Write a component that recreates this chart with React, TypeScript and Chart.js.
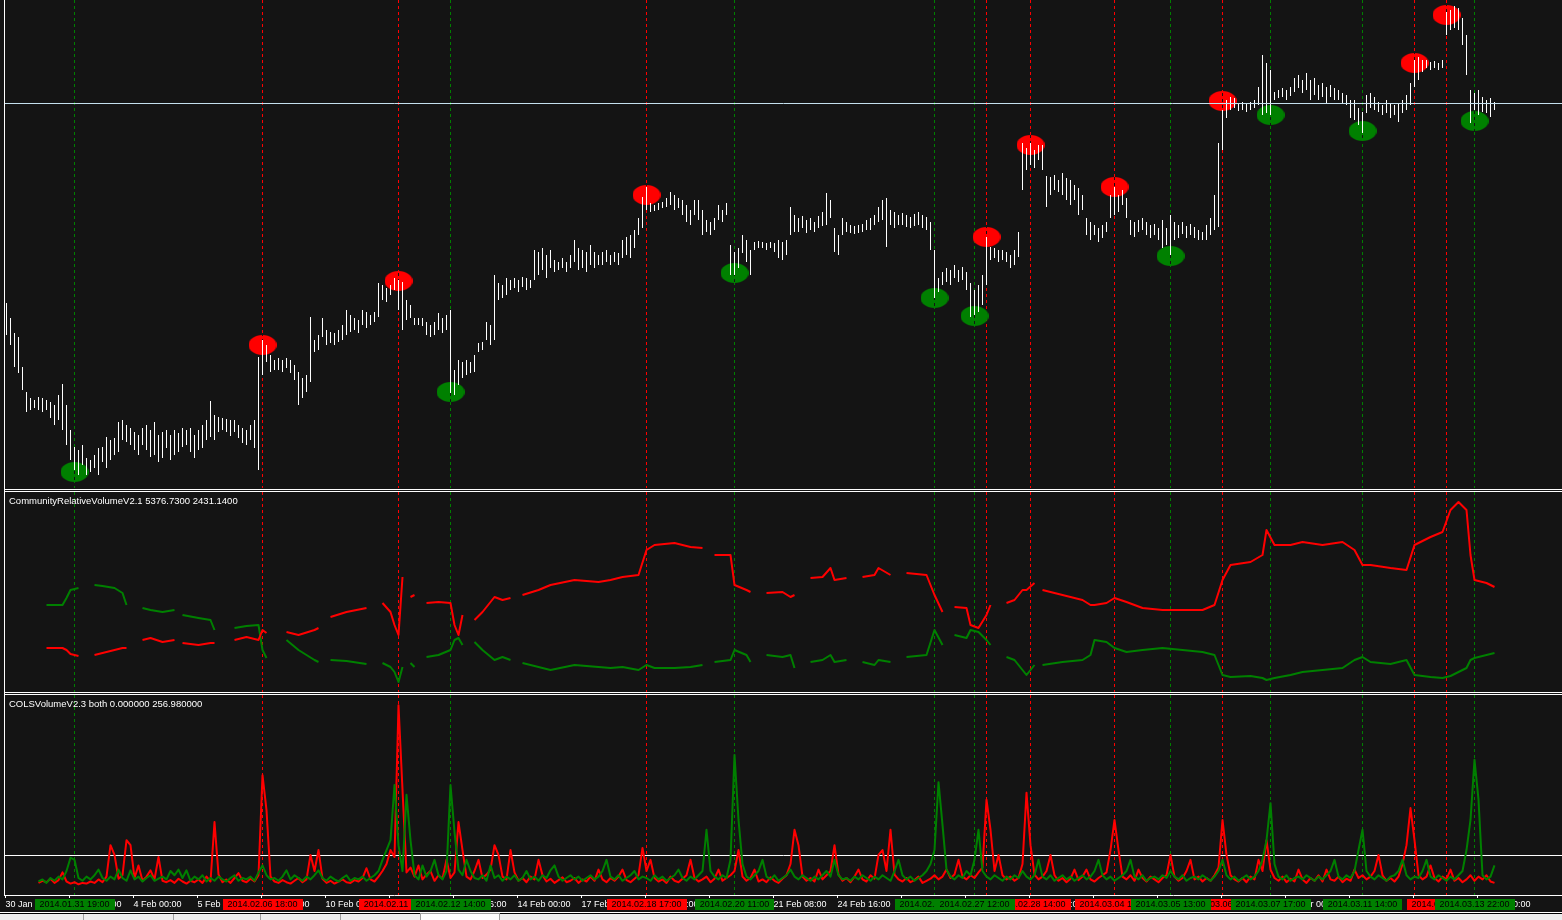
import React, { useEffect, useRef } from 'react';
import { Chart, registerables } from 'chart.js';

Chart.register(...registerables);
Chart.defaults.font.family = '"Liberation Sans", Arial, sans-serif';

// ---------------- data ----------------
// EURUSD H2 bars, prices in pips (x10000)
const BAR_HIGH = [
  13647,13632,13617,13613,13583,13558,13552,13550,13553,13552,
  13550,13548,13545,13555,13566,13545,13520,13503,13500,13505,
  13492,13490,13495,13502,13503,13513,13510,13512,13528,13530,
  13525,13522,13518,13515,13522,13525,13520,13528,13515,13518,
  13520,13515,13520,13517,13522,13520,13522,13515,13520,13525,
  13530,13549,13535,13533,13532,13531,13530,13530,13525,13522,
  13520,13525,13530,13593,13610,13605,13595,13590,13592,13590,
  13592,13590,13585,13578,13572,13575,13633,13610,13615,13632,
  13620,13618,13617,13620,13625,13640,13635,13632,13630,13640,
  13638,13635,13638,13667,13665,13662,13665,13672,13670,13668,
  13650,13645,13632,13632,13632,13628,13625,13628,13637,13632,
  13635,13640,13580,13590,13588,13590,13588,13595,13607,13608,
  13628,13625,13675,13667,13665,13672,13670,13672,13670,13673,
  13672,13670,13700,13698,13702,13695,13700,13690,13688,13692,
  13688,13695,13710,13702,13700,13698,13705,13698,13695,13698,
  13700,13695,13698,13697,13710,13713,13715,13720,13732,13753,
  13763,13747,13745,13747,13748,13752,13758,13755,13752,13750,
  13745,13740,13750,13750,13740,13730,13728,13732,13745,13740,
  13747,13705,13698,13702,13715,13710,13700,13708,13709,13708,
  13707,13708,13707,13710,13708,13710,13743,13735,13732,13734,
  13730,13732,13728,13734,13738,13757,13750,13722,13715,13732,
  13728,13725,13724,13725,13726,13730,13732,13735,13743,13750,
  13752,13740,13738,13735,13737,13735,13733,13736,13738,13735,
  13733,13728,13700,13672,13678,13682,13680,13685,13680,13683,
  13678,13667,13660,13665,13675,13713,13703,13702,13700,13700,
  13698,13695,13700,13718,13807,13802,13807,13800,13805,13805,
  13774,13773,13775,13770,13777,13772,13770,13765,13762,13755,
  13732,13728,13725,13722,13725,13728,13755,13763,13755,13760,
  13752,13730,13728,13730,13732,13728,13725,13726,13722,13730,
  13722,13735,13728,13725,13728,13724,13726,13723,13720,13718,
  13725,13732,13755,13807,13840,13850,13853,13852,13847,13848,
  13847,13848,13850,13863,13895,13887,13880,13858,13860,13862,
  13860,13863,13872,13875,13870,13877,13870,13872,13865,13867,
  13863,13865,13862,13860,13857,13855,13850,13850,13842,13838,
  13855,13857,13853,13848,13845,13850,13847,13845,13847,13850,
  13855,13867,13890,13893,13890,13890,13888,13889,13887,13890,
  13938,13940,13944,13942,13932,13915,13860,13857,13860,13853,
  13850,13852,13848,
];
const BAR_LOW = [
  13615,13605,13583,13577,13560,13538,13540,13542,13540,13538,
  13540,13532,13525,13530,13520,13505,13490,13480,13475,13485,
  13475,13478,13482,13475,13488,13482,13490,13495,13498,13510,
  13508,13505,13500,13495,13505,13500,13493,13495,13488,13492,
  13502,13490,13495,13498,13503,13505,13498,13492,13500,13502,
  13510,13513,13510,13518,13520,13518,13514,13518,13512,13507,
  13505,13510,13502,13480,13575,13588,13578,13580,13580,13578,
  13582,13577,13570,13545,13552,13558,13568,13598,13600,13613,
  13605,13607,13605,13608,13610,13615,13618,13620,13617,13625,
  13622,13625,13628,13633,13650,13648,13655,13660,13640,13620,
  13630,13632,13625,13625,13624,13615,13613,13615,13620,13617,
  13620,13557,13555,13565,13572,13575,13577,13578,13598,13600,
  13610,13605,13610,13650,13652,13655,13660,13662,13658,13663,
  13660,13662,13670,13675,13680,13672,13682,13678,13680,13682,
  13678,13682,13688,13680,13682,13678,13685,13682,13685,13685,
  13688,13685,13688,13685,13692,13695,13692,13702,13715,13722,
  13740,13738,13739,13740,13742,13743,13745,13740,13742,13735,
  13728,13725,13735,13730,13715,13718,13715,13720,13730,13728,
  13735,13675,13675,13682,13697,13688,13675,13700,13702,13702,
  13700,13702,13698,13692,13690,13695,13715,13718,13718,13722,
  13717,13720,13718,13722,13724,13725,13732,13698,13695,13715,
  13718,13717,13716,13717,13718,13720,13720,13725,13728,13730,
  13703,13725,13722,13725,13725,13723,13722,13724,13725,13722,
  13720,13700,13652,13658,13665,13668,13665,13672,13668,13670,
  13660,13633,13635,13638,13645,13665,13690,13692,13688,13690,
  13688,13682,13685,13693,13760,13780,13785,13782,13790,13780,
  13743,13755,13760,13758,13755,13750,13745,13750,13735,13740,
  13715,13710,13715,13708,13712,13718,13732,13735,13738,13745,
  13732,13715,13713,13718,13720,13715,13712,13715,13710,13702,
  13705,13695,13710,13712,13716,13712,13715,13712,13710,13710,
  13710,13715,13720,13723,13800,13832,13840,13842,13839,13840,
  13838,13840,13842,13845,13835,13837,13835,13850,13852,13853,
  13850,13854,13858,13862,13857,13860,13850,13855,13850,13853,
  13847,13853,13850,13850,13847,13845,13832,13830,13825,13817,
  13837,13842,13840,13838,13835,13837,13832,13835,13828,13837,
  13840,13845,13863,13870,13878,13882,13880,13882,13880,13882,
  13915,13920,13922,13920,13905,13875,13827,13840,13835,13838,
  13837,13833,13840,
];
const BID_LEVEL = 13847;

const SELL_IDX = [64, 98, 160, 245, 256, 277, 304, 352, 360];
const SELL_PRICE = [13605, 13669, 13755, 13713, 13805, 13763, 13849, 13887, 13935];
const SELL_TIMES = ['2014.02.06 18:00', '2014.02.11 13:00', '2014.02.18 17:00', '2014.02.27 18:00', '2014.02.28 14:00', '2014.03.04 10:00', '2014.03.06 16:00', '', '2014.03.13 08:00'];
const BUY_IDX = [17, 111, 182, 232, 242, 291, 316, 339, 367];
const BUY_PRICE = [13478, 13558, 13677, 13652, 13634, 13694, 13835, 13819, 13829];
const BUY_TIMES = ['2014.01.31 19:00', '2014.02.12 14:00', '2014.02.20 11:00', '2014.02.26 16:00', '2014.02.27 12:00', '2014.03.05 13:00', '2014.03.07 17:00', '2014.03.11 14:00', '2014.03.13 22:00'];

// CommunityRelativeVolume (bar index, red buffer, green buffer; null = gap)
const RV_X = [
  10,14,15,16,18,19, 22,24,27,29,30,32, 34,36,39,42,43, 44,48,51,52,54,
  57,60,63,64,65,67, 70,73,77,78,80, 81,85,90,92, 94,96,97,98,99,100,
  101,102,104, 105,108,111,112,113,114,116, 117,119,122,124,126,128,
  129,133,136,142,148,151,154,158,160,162,167,171,174,175,
  177,181,182,185,186,188, 190,194,196,197,199, 201,204,206,207,210,212,
  214,217,218,221,223, 225,230,232,234,236, 237,240,241,243,245,246,248,
  250,252,254,255,257,258,
  259,264,269,271,272,275,277,280,284,289,294,299,302,304,306,311,314,315,317,
  321,324,329,334,337,339,341,346,350,352,356,359,361,363,365,366,367,370,372,
];
const RV_RED = [
  2350,2350,2250,2050,1950,null, 2000,2100,2250,2350,2350,null, 2750,2850,2650,2750,null,
  2600,2500,2600,2600,null, 2750,2900,2750,3250,3100,null, 3150,3000,3250,3350,null,
  3900,4150,4350,null, 4600,4150,3500,3000,5900,null, 4900,5000,null,
  4600,4650,4600,3500,3000,4000,null, 3750,4150,4900,4750,4850,null,
  5000,5250,5500,5750,5650,5750,5900,6000,7250,7500,7600,7400,7350,null,
  7000,7000,5500,5250,5150,null, 5100,5150,4900,5000,null, 5850,5900,6350,5750,5850,null,
  5900,6000,6350,6000,null, 6100,6000,5000,4150,null, 4400,4350,3500,3350,4000,4500,null,
  4600,4750,5250,5250,5600,null,
  5250,5000,4750,4500,4500,4600,4850,4650,4350,4250,4250,4250,4500,5750,6500,6650,7000,8250,7500,
  7500,7650,7500,7650,7250,6500,6500,6350,6250,7500,7900,8150,9250,9650,9250,7000,5750,5600,5400,
];
const RV_GREEN = [
  4500,4500,4850,5250,5350,null, 5500,5450,5350,5100,4500,null, 4350,4250,4150,4250,null,
  4000,3850,3750,3250,null, 3350,3450,3500,2250,1850,null, 2750,2250,1750,1650,null,
  1750,1700,1550,null, 1600,1400,1150,650,1400,null, 1600,1400,null,
  1900,2000,2250,2750,2850,2500,null, 2650,2250,1750,1900,1750,null,
  1600,1400,1250,1500,1400,1350,1400,1250,1500,1350,1350,1400,1500,null,
  1650,1750,2250,2000,1650,null, 2000,1900,2000,1350,null, 1650,1750,2000,1650,1750,null,
  1650,1500,1750,1650,null, 1900,2000,3250,2500,null, 3000,2850,3250,3150,2750,2500,null,
  1900,1750,1250,1000,1500,null,
  1500,1650,1750,2000,2750,2650,2350,2150,2250,2350,2250,2150,2000,1000,900,950,850,750,850,
  1000,1150,1250,1350,1750,1900,1650,1550,1750,1000,900,850,950,1150,1350,1750,1850,2000,2100,
];

// COLSVolume per bar
const COLS_RED = [
  null,null,null,null,null,null,null,null,3,6,
  4,9,3,7,18,5,2,4,1,3,
  2,5,3,8,4,12,57,43,9,14,
  64,57,10,28,6,12,21,8,40,6,
  4,7,3,9,5,2,6,4,8,3,
  12,5,90,15,4,8,3,10,17,6,
  4,9,5,14,157,107,12,5,3,7,
  4,2,6,10,4,8,43,20,50,9,
  3,6,2,5,8,4,3,7,5,10,
  24,8,5,12,20,30,50,40,257,136,
  18,25,12,28,8,15,20,6,14,9,
  36,10,18,90,50,12,8,20,36,10,
  15,22,57,43,12,8,50,18,6,10,
  4,12,8,36,14,5,9,3,7,11,
  4,6,10,3,8,5,12,6,22,8,
  4,10,6,12,22,7,4,9,14,53,
  20,36,10,5,8,3,12,6,4,9,
  14,36,10,5,8,12,4,9,22,6,
  10,14,20,50,12,6,10,22,5,8,
  4,11,6,3,9,14,30,79,57,12,
  6,10,5,22,8,14,20,57,15,6,
  10,4,12,22,8,5,14,9,43,50,
  20,79,15,8,5,10,4,7,12,3,
  6,9,14,8,12,22,10,15,36,12,
  8,14,10,18,25,122,79,20,43,14,
  8,12,6,10,30,132,57,15,8,12,
  20,43,14,6,10,4,9,22,7,12,
  22,8,5,10,14,18,50,93,50,12,
  8,14,6,22,10,5,12,8,4,10,
  14,43,12,6,10,20,36,8,12,5,
  10,6,14,25,93,43,14,8,5,10,
  4,12,8,36,20,64,22,10,6,12,
  4,9,5,22,8,3,10,6,14,5,
  22,8,6,12,4,9,6,22,10,14,
  8,12,20,43,14,6,10,5,12,30,
  57,110,64,14,8,12,28,10,5,12,
  8,22,6,10,4,8,14,6,12,8,
  14,5,3,
];
const COLS_GREEN = [
  null,null,null,null,null,null,null,null,5,8,
  3,10,6,12,8,20,39,36,10,6,
  12,8,14,22,10,6,12,8,22,10,
  6,21,8,12,5,10,14,6,9,12,
  8,20,14,22,10,21,6,12,8,14,
  5,10,6,12,8,5,10,14,6,10,
  8,12,6,18,28,14,8,10,6,12,
  21,8,14,10,6,12,8,14,21,10,
  6,12,8,5,10,14,6,10,8,12,
  6,10,14,20,36,50,64,143,57,20,
  129,64,14,8,28,12,20,36,14,8,
  20,143,76,22,14,36,20,10,8,14,
  6,28,10,14,6,12,8,14,6,10,
  20,8,12,6,14,10,21,28,12,6,
  10,14,8,12,6,10,14,8,12,20,
  36,12,8,14,6,10,14,20,8,12,
  10,6,14,8,12,6,10,14,22,10,
  6,12,8,14,20,79,20,12,8,14,
  10,36,186,93,30,12,8,14,20,36,
  12,8,14,6,10,14,22,12,8,14,
  10,6,12,8,14,20,12,36,14,8,
  10,6,12,8,14,10,6,12,8,14,
  10,6,20,36,14,8,12,6,10,14,
  20,30,50,147,86,22,12,8,14,10,
  20,14,36,79,20,12,8,14,10,6,
  12,8,14,10,20,12,8,14,36,12,
  8,14,6,10,14,8,12,6,10,14,
  8,12,20,36,14,8,12,6,10,14,
  20,36,12,8,14,6,10,12,8,14,
  10,20,12,8,14,6,10,12,8,14,
  10,6,12,20,36,14,8,12,6,10,
  14,8,12,20,36,64,117,30,12,8,
  14,6,10,12,8,14,10,6,12,8,
  14,20,36,12,8,14,10,20,50,79,
  20,12,8,14,10,6,12,14,20,36,
  14,8,12,10,20,36,12,8,14,10,
  6,12,8,14,20,50,93,179,122,14,
  8,12,28,
];
const COLS_LEVEL = 41.5;

const TICK_LABELS = [
  '30 Jan 2014', '31 Jan 16:00', '4 Feb 00:00', '5 Feb 08:00', '6 Feb 16:00', '10 Feb 00:00',
  '11 Feb 08:00', '12 Feb 16:00', '14 Feb 00:00', '17 Feb 08:00', '18 Feb 16:00', '20 Feb 00:00',
  '21 Feb 08:00', '24 Feb 16:00', '26 Feb 00:00', '27 Feb 08:00', '28 Feb 16:00', '4 Mar 00:00',
  '5 Mar 08:00', '6 Mar 16:00', '10 Mar 00:00', '11 Mar 08:00', '12 Mar 16:00', '14 Mar 00:00',
];
const RV_TITLE = 'CommunityRelativeVolumeV2.1 5376.7300 2431.1400';
const COLS_TITLE = 'COLSVolumeV2.3 both 0.000000 256.980000';

// ---------------- look ----------------
const BG = '#141414';
const RED = '#ff0000';
const GREEN = '#008000';
const W = 1562;
const PLOT_LEFT = 5;
const PLOT_W = W - PLOT_LEFT;
const BAR_STEP = 4;
const X_MIN = -0.375;
const X_MAX = X_MIN + PLOT_W / BAR_STEP;
const DASH = [3, 3];
const DOT_RX = 14;
const DOT_RY = 10;

function makeDot(color: string) {
  const c = document.createElement('canvas');
  c.width = DOT_RX * 2;
  c.height = DOT_RY * 2;
  const g = c.getContext('2d')!;
  g.fillStyle = color;
  g.beginPath();
  g.ellipse(DOT_RX, DOT_RY, DOT_RX, DOT_RY, 0, 0, Math.PI * 2);
  g.fill();
  return c;
}

function drawSignalLines(chart: any) {
  const { ctx, chartArea, scales } = chart;
  ctx.save();
  ctx.lineWidth = 1;
  ctx.setLineDash(DASH);
  const groups: [number[], string][] = [[SELL_IDX, RED], [BUY_IDX, GREEN]];
  for (const [idxs, color] of groups) {
    ctx.strokeStyle = color;
    for (const i of idxs) {
      const x = Math.floor(scales.x.getPixelForValue(i)) + 0.5;
      ctx.beginPath();
      ctx.moveTo(x, chartArea.top);
      ctx.lineTo(x, chartArea.bottom);
      ctx.stroke();
    }
  }
  ctx.restore();
}

function hLine(chart: any, value: number, color: string) {
  const { ctx, chartArea, scales } = chart;
  const y = Math.floor(scales.y.getPixelForValue(value)) + 0.5;
  ctx.save();
  ctx.strokeStyle = color;
  ctx.lineWidth = 1;
  ctx.beginPath();
  ctx.moveTo(chartArea.left, y);
  ctx.lineTo(chartArea.right, y);
  ctx.stroke();
  ctx.restore();
}

function title(chart: any, text: string) {
  const { ctx } = chart;
  ctx.save();
  ctx.fillStyle = '#ffffff';
  ctx.font = '9.5px "Liberation Sans", Arial, sans-serif';
  ctx.textBaseline = 'middle';
  ctx.textAlign = 'left';
  ctx.fillText(text, 4, 9.5);
  ctx.restore();
}

const baseX = { type: 'linear', display: false, min: X_MIN, max: X_MAX, offset: false };
const baseOpts = {
  animation: false,
  responsive: false,
  devicePixelRatio: 1,
  events: [],
  layout: { padding: 0, autoPadding: false },
  plugins: { legend: { display: false }, tooltip: { enabled: false }, title: { display: false } },
};

const mainPlugin = {
  id: 'mainDecor',
  beforeDatasetsDraw(chart: any) {
    drawSignalLines(chart);
  },
  beforeDatasetDraw(chart: any, args: any) {
    if (args.index !== 0) return;
    // dash gaps show through the signal dots
    const { ctx, chartArea, scales } = chart;
    const groups: [number[], number[]][] = [[SELL_IDX, SELL_PRICE], [BUY_IDX, BUY_PRICE]];
    for (const [idxs, prices] of groups) {
      idxs.forEach((i, k) => {
        const px = scales.x.getPixelForValue(i);
        const py = scales.y.getPixelForValue(prices[k]);
        const x = Math.floor(px) + 0.5;
        ctx.save();
        ctx.beginPath();
        ctx.ellipse(px, py, DOT_RX, DOT_RY, 0, 0, Math.PI * 2);
        ctx.clip();
        ctx.strokeStyle = BG;
        ctx.lineWidth = 1;
        ctx.setLineDash(DASH);
        ctx.lineDashOffset = DASH[0];
        ctx.beginPath();
        ctx.moveTo(x, chartArea.top);
        ctx.lineTo(x, chartArea.bottom);
        ctx.stroke();
        ctx.restore();
      });
    }
  },
  afterDatasetsDraw(chart: any) {
    hLine(chart, BID_LEVEL, '#c4e0ee');
  },
};

const rvPlugin = {
  id: 'rvDecor',
  beforeDatasetsDraw(chart: any) {
    drawSignalLines(chart);
  },
  afterDatasetsDraw(chart: any) {
    title(chart, RV_TITLE);
  },
};

const colsPlugin = {
  id: 'colsDecor',
  beforeDatasetsDraw(chart: any) {
    drawSignalLines(chart);
    hLine(chart, COLS_LEVEL, '#ffffff');
  },
  afterDatasetsDraw(chart: any) {
    title(chart, COLS_TITLE);
  },
  afterDraw(chart: any) {
    const { ctx, chartArea, scales } = chart;
    ctx.save();
    ctx.font = '9px "Liberation Sans", Arial, sans-serif';
    ctx.textBaseline = 'middle';
    ctx.textAlign = 'center';
    const top = chartArea.bottom + 4;
    const h = 11;
    const groups: [number[], string[], string][] = [[SELL_IDX, SELL_TIMES, RED], [BUY_IDX, BUY_TIMES, GREEN]];
    for (const [idxs, times, color] of groups) {
      idxs.forEach((i, k) => {
        const t = times[k];
        if (!t) return;
        const cx = Math.floor(scales.x.getPixelForValue(i)) + 0.5;
        const w = Math.round(ctx.measureText(t).width) + 10;
        ctx.fillStyle = color;
        ctx.fillRect(Math.round(cx - w / 2), top, w, h);
        ctx.fillStyle = '#000000';
        ctx.fillText(t, cx, top + h / 2 + 0.5);
      });
    }
    ctx.restore();
  },
};

function makeMain(canvas: HTMLCanvasElement) {
  const redDot = makeDot(RED);
  const greenDot = makeDot(GREEN);
  return new Chart(canvas, {
    type: 'bar',
    data: {
      datasets: [
        {
          type: 'bar',
          data: BAR_HIGH.map((h, i) => ({ x: i, y: [BAR_LOW[i], h] })),
          backgroundColor: '#ffffff',
          borderWidth: 0,
          barThickness: 1,
          inflateAmount: 0,
        } as any,
        {
          type: 'scatter',
          data: SELL_IDX.map((i, k) => ({ x: i, y: SELL_PRICE[k] })),
          pointStyle: redDot,
          pointRadius: DOT_RX,
        } as any,
        {
          type: 'scatter',
          data: BUY_IDX.map((i, k) => ({ x: i, y: BUY_PRICE[k] })),
          pointStyle: greenDot,
          pointRadius: DOT_RX,
        } as any,
      ],
    },
    options: {
      ...baseOpts,
      scales: {
        x: baseX,
        y: { type: 'linear', display: false, min: 13462, max: 13950 },
      },
    } as any,
    plugins: [mainPlugin],
  });
}

function makeRV(canvas: HTMLCanvasElement) {
  const line = (vals: (number | null)[], color: string) => ({
    type: 'line',
    data: RV_X.map((x, k) => ({ x, y: vals[k] })),
    borderColor: color,
    borderWidth: 2,
    pointRadius: 0,
    spanGaps: false,
    tension: 0,
    borderJoinStyle: 'round',
  });
  return new Chart(canvas, {
    type: 'line',
    data: { datasets: [line(RV_RED, RED), line(RV_GREEN, GREEN)] as any },
    options: {
      ...baseOpts,
      scales: {
        x: baseX,
        y: { type: 'linear', display: false, min: 150, max: 10150 },
      },
    } as any,
    plugins: [rvPlugin],
  });
}

function makeCols(canvas: HTMLCanvasElement) {
  const line = (vals: (number | null)[], color: string) => ({
    type: 'line',
    data: vals.map((v, i) => ({ x: i, y: v })),
    borderColor: color,
    borderWidth: 2,
    pointRadius: 0,
    spanGaps: false,
    tension: 0,
    borderJoinStyle: 'round',
  });
  return new Chart(canvas, {
    type: 'line',
    data: { datasets: [line(COLS_GREEN, GREEN), line(COLS_RED, RED)] as any },
    options: {
      ...baseOpts,
      scales: {
        x: {
          type: 'linear',
          min: X_MIN,
          max: X_MAX,
          offset: false,
          afterBuildTicks: (s: any) => {
            s.ticks = TICK_LABELS.map((_, k) => ({ value: 16 * k - 0.25 }));
          },
          afterFit: (s: any) => {
            s.height = 17;
            s.paddingLeft = 0;
            s.paddingRight = 0;
          },
          ticks: {
            autoSkip: false,
            maxRotation: 0,
            minRotation: 0,
            align: 'start',
            padding: 1,
            color: '#ffffff',
            font: { size: 9 },
            callback: (_v: any, i: number) => TICK_LABELS[i],
          },
          grid: { drawOnChartArea: false, drawTicks: true, tickLength: 3, tickColor: '#ffffff', color: '#ffffff' },
          border: { display: true, color: '#ffffff', width: 1 },
        },
        y: { type: 'linear', display: false, min: -14.3, max: 271.7 },
      },
    } as any,
    plugins: [colsPlugin],
  });
}

export default function App() {
  const c1 = useRef<HTMLCanvasElement>(null);
  const c2 = useRef<HTMLCanvasElement>(null);
  const c3 = useRef<HTMLCanvasElement>(null);

  useEffect(() => {
    const charts = [makeMain(c1.current!), makeRV(c2.current!), makeCols(c3.current!)];
    return () => charts.forEach((c) => c.destroy());
  }, []);

  const abs = (left: number, top: number, width: number, height: number, bg: string): React.CSSProperties => ({
    position: 'absolute', left, top, width, height, background: bg,
  });

  return (
    <div style={{ position: 'fixed', left: 0, top: 0, width: W, height: 920, background: BG, overflow: 'hidden' }}>
      <canvas ref={c1} width={PLOT_W} height={488} style={{ position: 'absolute', left: PLOT_LEFT, top: 0, width: PLOT_W, height: 488 }} />
      <canvas ref={c2} width={PLOT_W} height={200} style={{ position: 'absolute', left: PLOT_LEFT, top: 492, width: PLOT_W, height: 200 }} />
      <canvas ref={c3} width={PLOT_W} height={217} style={{ position: 'absolute', left: PLOT_LEFT, top: 695, width: PLOT_W, height: 217 }} />
      {/* frame lines */}
      <div style={abs(4, 0, 1, 896, '#ffffff')} />
      <div style={abs(4, 489, W - 4, 1, '#ffffff')} />
      <div style={abs(4, 491, W - 4, 1, '#ffffff')} />
      <div style={abs(4, 692, W - 4, 1, '#ffffff')} />
      <div style={abs(4, 694, W - 4, 1, '#ffffff')} />
      {/* bottom tab strip */}
      <div style={abs(0, 912, W, 1, '#ffffff')} />
      <div style={abs(0, 913, W, 1, '#000000')} />
      <div style={abs(0, 914, W, 6, '#ececec')} />
      <div style={abs(83, 914, 1, 6, '#a0a0a0')} />
      <div style={abs(173, 914, 1, 6, '#a0a0a0')} />
      <div style={abs(260, 914, 1, 6, '#a0a0a0')} />
      <div style={abs(340, 914, 1, 6, '#a0a0a0')} />
      <div style={{ ...abs(420, 913, 80, 7, '#ffffff'), boxSizing: 'border-box', border: '1px solid #a0a0a0', borderBottom: 'none' }} />
    </div>
  );
}
